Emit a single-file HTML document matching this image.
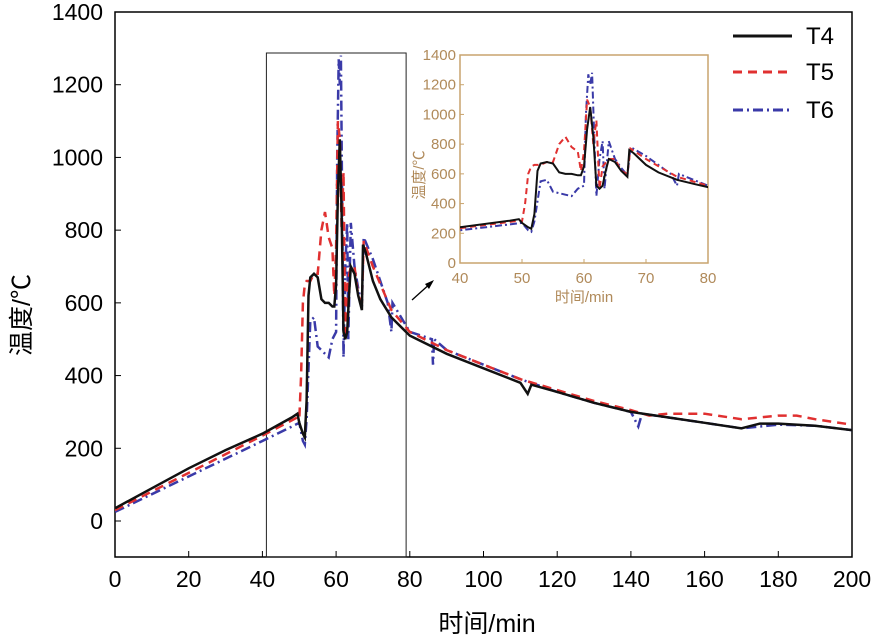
<!DOCTYPE html>
<html><head><meta charset="utf-8"><style>
body{margin:0;background:#fff;width:877px;height:638px;overflow:hidden}
svg text{font-family:"Liberation Sans","Noto Sans CJK SC",sans-serif}
</style></head><body>
<svg id="chart" width="877" height="638"></svg>
<script>
const series=['T4','T5','T6'];
const t4Time=[0,10,20,30,40,48,49.5,50,51,51.5,52,52.5,53,54,55,56,57,58,59,59.5,60,60.5,61,61.5,62,62.5,63,63.5,64,65,66,67,67.3,68,70,72,75,78,80,90,100,110,112,113,120,130,140,150,160,170,175,180,190,200];
const t4Val=[35,90,145,195,240,285,295,270,240,230,330,620,670,680,670,610,600,600,590,590,650,900,1050,850,520,500,520,620,700,680,620,580,760,740,660,610,560,530,510,460,420,380,350,375,355,325,300,285,270,255,268,268,262,250];
const t5Time=[0,40,49.5,50,50.5,51,51.5,52,53,54,55,56,57,58,59,59.5,60,60.5,61,61.5,62,62.5,63,64,65,66,67,67.5,70,75,80,90,100,110,120,130,140,145,150,160,170,180,185,190,200];
const t5Val=[30,235,285,280,400,600,650,660,660,680,680,800,850,780,750,620,750,1100,1050,800,960,500,650,700,700,620,600,770,700,580,520,470,430,390,360,330,305,290,295,295,280,290,290,280,265];
const t6Time=[0,40,48,50,51,51.5,52,53,54,55,56,57,58,59,60,60.3,60.7,61,61.3,61.7,62,62.5,63,63.3,64,65,66,67,67.5,70,74,75,75.3,80,86,86.3,86.6,90,100,110,120,130,140,142,143,150,160,170,180,190,200];
const t6Val=[25,220,260,270,220,210,280,550,560,480,470,460,450,500,520,1000,1270,1200,1280,800,450,700,820,500,820,700,640,590,780,720,600,520,600,520,500,430,500,470,430,390,355,325,300,260,295,285,270,255,265,262,250];
const xTicks=[0,20,40,60,80,100,120,140,160,180,200];
const yTicks=[0,200,400,600,800,1000,1200,1400];
const insetXTicks=[40,50,60,70,80];
const insetYTicks=[0,200,400,600,800,1000,1200,1400];
const colors=['#111','#e03030','#3a3aa8'],dashes=['','9,6','10,4,2,4'];
const NS='http://www.w3.org/2000/svg';
const svg=document.getElementById('chart');
function el(tag,attrs,parent){const e=document.createElementNS(NS,tag);for(const k in attrs)e.setAttribute(k,attrs[k]);(parent||svg).appendChild(e);return e;}
// main axes
const L=115,R=852,T=12,B=557;
const x=v=>L+(v-0)/200*(R-L);
const y=v=>521-v/1400*(521-T);
const fr=el('rect',{x:L,y:T,width:R-L,height:B-T,fill:'none',stroke:'#000','stroke-width':1.5});

xTicks.forEach(v=>{el('line',{x1:x(v),x2:x(v),y1:B,y2:B-6,stroke:'#000'});
 const t=el('text',{x:x(v),y:B+30,'text-anchor':'middle','font-size':23});t.textContent=v;
 });
yTicks.forEach(v=>{el('line',{x1:L,x2:L+6,y1:y(v),y2:y(v),stroke:'#000'});
 const t=el('text',{x:L-12,y:y(v)+8,'text-anchor':'end','font-size':23});t.textContent=v;
 });
const xl=el('text',{x:487,y:632,'text-anchor':'middle','font-size':25});xl.textContent='时间/min';

const yl=el('text',{x:0,y:0,'text-anchor':'middle','font-size':25,transform:'translate(30,315) rotate(-90)'});yl.textContent='温度/℃';

const box=el('rect',{x:x(40)+4,y:53,width:x(79)-x(40)-4,height:B-53,fill:'none',stroke:'#222','stroke-width':1});

const data=[[t4Time,t4Val],[t5Time,t5Val],[t6Time,t6Val]];
el('clipPath',{id:'mc'}).appendChild(Object.assign(document.createElementNS(NS,'rect'),{}));
document.querySelector('#mc rect').setAttribute('x',L);document.querySelector('#mc rect').setAttribute('y',T);
document.querySelector('#mc rect').setAttribute('width',R-L);document.querySelector('#mc rect').setAttribute('height',B-T);
[2,1,0].forEach(i=>{const [tt,vv]=data[i];
 const p=el('path',{d:tt.map((t,j)=>(j?'L':'M')+x(t).toFixed(1)+','+y(vv[j]).toFixed(1)).join(''),fill:'none',stroke:colors[i],'stroke-width':2.5,'stroke-dasharray':dashes[i],'clip-path':'url(#mc)'});
 });
// inset
const iL=460,iR=708,iT=55,iB=263,tan='#c8a46e',tt='#b08a5a';
const ix=v=>iL+(v-40)/40*(iR-iL), iy=v=>iB-v/1400*(iB-iT);
const bg=el('rect',{x:iL,y:iT,width:iR-iL,height:iB-iT,fill:'#fff',stroke:tan,'stroke-width':1.5});

const cp=el('clipPath',{id:'ic'});el('rect',{x:iL,y:iT,width:iR-iL,height:iB-iT},cp);
insetXTicks.forEach(v=>{el('line',{x1:ix(v),x2:ix(v),y1:iB,y2:iB-4,stroke:tan});
 const t=el('text',{x:ix(v),y:iB+20,'text-anchor':'middle','font-size':15,fill:tt});t.textContent=v;
 });
insetYTicks.forEach(v=>{el('line',{x1:iL,x2:iL+4,y1:iy(v),y2:iy(v),stroke:tan});
 const t=el('text',{x:iL-4,y:iy(v)+5,'text-anchor':'end','font-size':15,fill:tt});t.textContent=v;
 });
const ixl=el('text',{x:584,y:302,'text-anchor':'middle','font-size':15,fill:tt});ixl.textContent='时间/min';

const iyl=el('text',{x:0,y:0,'text-anchor':'middle','font-size':15,fill:tt,transform:'translate(424,175) rotate(-90)'});iyl.textContent='温度/℃';

[2,1,0].forEach(i=>{const [tt2,vv]=data[i];
 const p=el('path',{d:tt2.map((t,j)=>(j?'L':'M')+ix(t).toFixed(1)+','+iy(vv[j]).toFixed(1)).join(''),fill:'none',stroke:colors[i],'stroke-width':2,'stroke-dasharray':i?(i==1?'6,4':'7,3,2,3'):'','clip-path':'url(#ic)'});
 });
const ar=el('line',{x1:412,y1:300,x2:432,y2:282,stroke:'#000','stroke-width':1.3});

el('path',{d:'M434,280 L425,284 L429,289 Z',fill:'#000'});
// legend
series.forEach((s,i)=>{const yy=[36,72,110][i];
 const l=el('line',{x1:733,x2:792,y1:yy,y2:yy,stroke:colors[i],'stroke-width':3,'stroke-dasharray':dashes[i]});
 
 const t=el('text',{x:806,y:yy+8,'font-size':24});t.textContent=s;
 });
</script>
</body></html>
